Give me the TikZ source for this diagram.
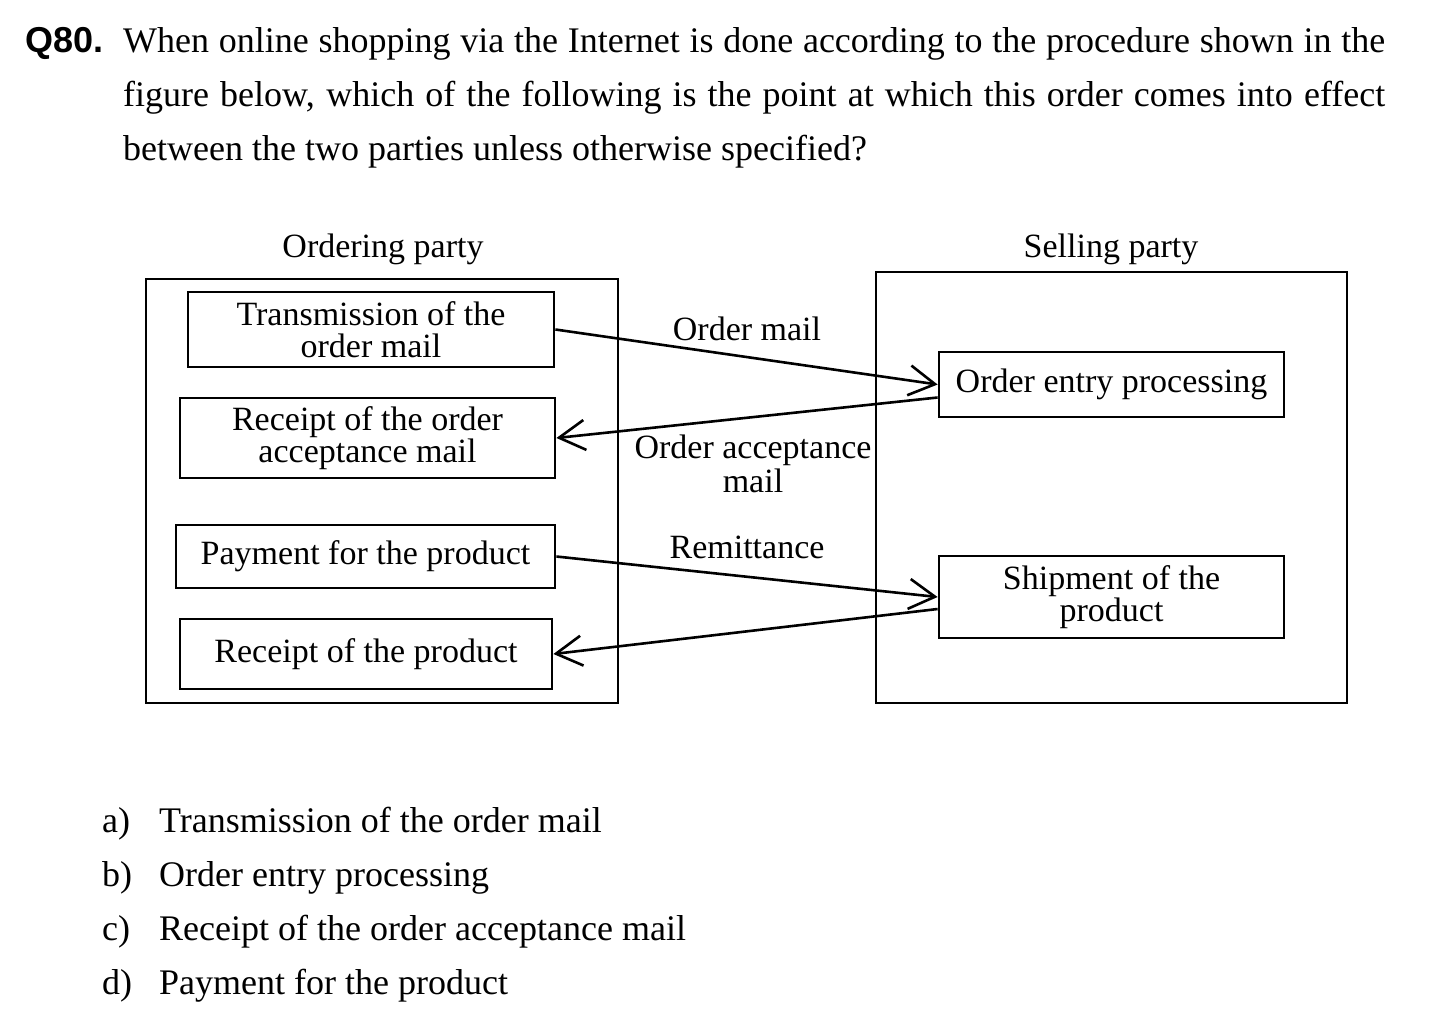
\documentclass[tikz,border=0pt]{standalone}
\usepackage{fontspec}
\setmainfont{Liberation Serif}
\newfontfamily\qfont{Liberation Sans}
\usetikzlibrary{arrows.meta}

\tikzset{
  party/.style={draw, line width=2.8pt, inner sep=0pt},
  stepbox/.style={draw, line width=2.8pt, inner sep=0pt, align=center,
    font=\fontsize{34}{32}\selectfont},
  lbl/.style={inner sep=0pt, align=center, font=\fontsize{34}{34}\selectfont},
  msg/.style={line width=2.6pt, -{Straight Barb[length=26pt,width=30pt]}},
  body/.style={inner sep=0pt, font=\fontsize{36}{54}\selectfont},
}

\begin{document}
\begin{tikzpicture}[x=1pt, y=-1pt]
\useasboundingbox (0,0) rectangle (1450,1031);
% question text
\node[body, anchor=base west, font=\qfont\bfseries\fontsize{36}{54}\selectfont] (qno) at (25,52) {Q80.};
\node[body, anchor=base west, text width=1262pt, align=justify] (qtext) at (123,52)
  {When online shopping via the Internet is done according to the procedure shown in the\linebreak
   figure below, which of the following is the point at which this order comes into effect\linebreak
   between the two parties unless otherwise specified?};

% the two parties
\node[party, minimum width=472, minimum height=424] (ord) at (382,491) {};
\node[party, minimum width=471, minimum height=431] (sel) at (1111.5,487.5) {};
\node[lbl, anchor=base] (ordlbl) at (383,257) {Ordering party};
\node[lbl, anchor=base] (sellbl) at (1111,257) {Selling party};

% steps of the ordering party
\node[stepbox, minimum width=366, minimum height=75] (tx) at (371,329.5) {Transmission of the\\order mail};
\node[stepbox, minimum width=375, minimum height=80] (rc) at (367.5,438) {Receipt of the order\\acceptance mail};
\node[stepbox, minimum width=379, minimum height=63] (pay) at (365.5,556.5) {Payment for the product};
\node[stepbox, minimum width=372, minimum height=70] (rp) at (366,654) {Receipt of the product};

% steps of the selling party
\node[stepbox, minimum width=345, minimum height=65] (oe) at (1111.5,384.5) {Order entry processing};
\node[stepbox, minimum width=345, minimum height=82] (sh) at (1111.5,597) {Shipment of the\\product};

% messages
\draw[msg] (tx.east) -- (oe.west);
\draw[msg] ([yshift=-13pt]oe.west) -- (rc.east);
\draw[msg] (pay.east) -- (sh.west);
\draw[msg] ([yshift=-12pt]sh.west) -- (rp.east);
\node[lbl, anchor=base] (omail) at (747,340) {Order mail};
\node[lbl, anchor=base] (oamail) at (753,492) {Order acceptance\\mail};
\node[lbl, anchor=base] (remit) at (747,558) {Remittance};

% answer choices
\foreach \lab/\ans [count=\i] in {a/Transmission of the order mail, b/Order entry processing,
    c/Receipt of the order acceptance mail, d/Payment for the product}{
  \node[body, anchor=base west] (lab\i) at (102,778+54*\i) {\lab)};
  \node[body, anchor=base west] (ans\i) at (159,778+54*\i) {\ans};
}
\end{tikzpicture}
\end{document}
